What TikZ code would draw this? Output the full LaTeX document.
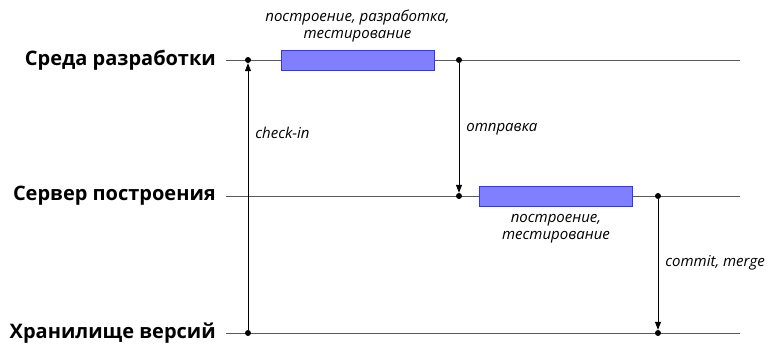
\documentclass[tikz,border=0pt]{standalone}
\usepackage{fontspec}
\setmainfont{Open Sans}
\usetikzlibrary{arrows.meta}
\begin{document}
\begin{tikzpicture}[x=1pt,y=-1pt,
  lane/.style={draw=black!65,line width=0.9pt},
  lbl/.style={anchor=east,font=\bfseries\fontsize{20}{24}\selectfont,inner sep=0pt},
  dotc/.style={circle,fill=black,inner sep=0pt,minimum size=6pt},
  flow/.style={draw=black,line width=0.8pt,-{Triangle[width=6pt,length=8pt]}},
  work/.style={draw=blue!80!white,fill=blue!50!white,line width=0.8pt,minimum width=153pt,minimum height=20pt,inner sep=0pt},
  note/.style={font=\itshape\fontsize{15}{17}\selectfont,align=center,inner sep=0pt}]
\useasboundingbox (0,0) rectangle (769,343);
% lanes
\coordinate (d0) at (226,60);  \coordinate (d1) at (740,60);
\coordinate (s0) at (226,196); \coordinate (s1) at (740,196);
\coordinate (r0) at (226,333); \coordinate (r1) at (740,333);
\draw[lane] (d0) -- (d1);
\draw[lane] (s0) -- (s1);
\draw[lane] (r0) -- (r1);
\node[lbl] (ld) at (216,60) {Среда разработки};
\node[lbl] (ls) at (216,196) {Сервер построения};
\node[lbl] (lr) at (216,333) {Хранилище версий};
% boxes
\node[work] (b1) at (357.5,60) {};
\node[work] (b2) at (556,196) {};
\node[note,anchor=south] (n1) at (357.5,42) {построение, разработка,\\тестирование};
\node[note,anchor=north] (n2) at (556,214) {построение,\\тестирование};
% dots
\node[dotc] (p1) at (248,60) {};
\node[dotc] (p2) at (248,333) {};
\node[dotc] (p3) at (459,60) {};
\node[dotc] (p4) at (459,196) {};
\node[dotc] (p5) at (658,196) {};
\node[dotc] (p6) at (658,333) {};
% arrows
\draw[flow] (p2) -- (p1) node[pos=0.74,right=7pt,note] {check-in};
\draw[flow] (p3) -- (p4) node[pos=0.51,right=7pt,note] {отправка};
\draw[flow] (p5) -- (p6) node[pos=0.49,right=7pt,note] {commit, merge};
\end{tikzpicture}
\end{document}
